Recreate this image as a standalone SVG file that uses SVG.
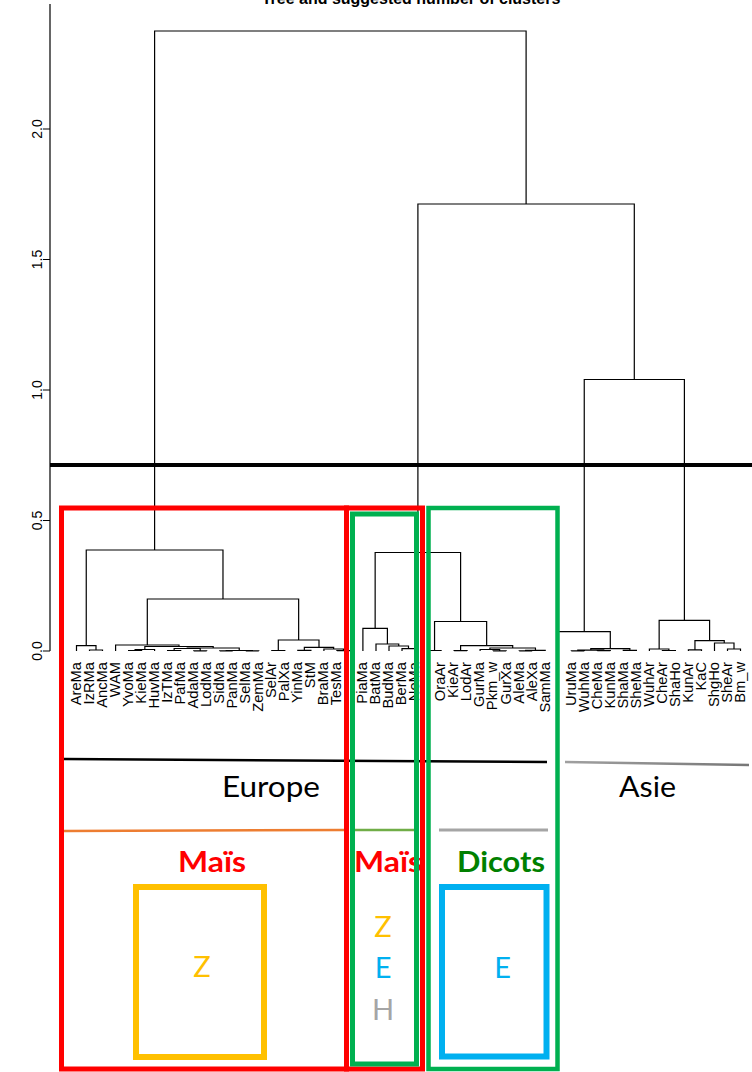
<svg xmlns="http://www.w3.org/2000/svg" width="752" height="1072" viewBox="0 0 752 1072">
<defs>
<style>
.dl{fill:none;stroke:#000;stroke-width:1.2}
.lb{font-family:"Liberation Sans",Arial,sans-serif;font-size:14.7px;text-anchor:end;fill:#000}
.ax{font-family:"Liberation Sans",Arial,sans-serif;font-size:14px;text-anchor:middle;fill:#000}
.cal{font-family:Lato,"Open Sans",sans-serif;font-size:29px}
.bx{fill:none}
</style>
<linearGradient id="gg" x1="0" y1="0" x2="1" y2="0">
<stop offset="0" stop-color="#a0a0a0"/>
<stop offset="1" stop-color="#777777"/>
</linearGradient>
</defs>
<rect width="752" height="1072" fill="#fff"/>
<text x="411" y="4" font-family="Liberation Sans, Arial, sans-serif" font-size="16" font-weight="bold" text-anchor="middle">Tree and suggested number of clusters</text>
<g id="axis">
<path class="dl" d="M50 4V651M43 651H50M43 520.5H50M43 390H50M43 259.5H50M43 129H50"/>
<text class="ax" transform="translate(42,651) rotate(-90)">0.0</text>
<text class="ax" transform="translate(42,520.5) rotate(-90)">0.5</text>
<text class="ax" transform="translate(42,390) rotate(-90)">1.0</text>
<text class="ax" transform="translate(42,259.5) rotate(-90)">1.5</text>
<text class="ax" transform="translate(42,129) rotate(-90)">2.0</text>
</g>
<g id="connectors">
<path class="dl" d="
M89.5 651V650H102.5V651
M76.5 651V645.7H96V650
M128.6 651V650.5H141.6V651
M135.1 650.5V649.5H154.6V651
M167.6 651V650.5H180.7V651
M193.7 651V650.8H206.7V651
M174.15 650.5V648.5H200.2V650.8
M219.7 651V650.9H232.7V651
M245.8 651V650.9H258.8V651
M226.2 650.9V650.5H252.3V650.9
M187.2 648.5V648H239.25V650.5
M144.85 649.5V646.5H213.2V648
M115.6 651V645H179V646.5
M271.8 651V650.5H284.8V651
M297.8 651V650.3H310.9V651
M336.9 651V650.7H349.9V651
M323.9 651V649H343.4V650.7
M304.35 650.3V647.3H333.65V649
M278.3 650.5V640H319V647.3
M147.3 645V599H298.65V640
M86.25 645.7V550H222.98V599
M402 651V648.7H415V651
M389 651V646H408.5V648.7
M376 651V644H398.75V646
M362.9 651V628.3H387.4V644
M428 651V650.5H441.1V651
M454.1 651V650.7H467.1V651
M493.1 651V650.8H506.2V651
M480.1 651V649.5H499.65V650.8
M519.2 651V650.9H532.2V651
M525.7 650.9V650.4H545.2V651
M489.9 649.5V648H535.45V650.4
M460.6 650.7V645.7H512.7V648
M434.55 650.5V621.5H486.65V645.7
M375.15 628.3V552.5H460.6V621.5
M571.3 651V650.8H584.3V651
M597.3 651V650.6H610.3V651
M577.8 650.8V650.2H603.8V650.6
M623.3 651V650.3H636.4V651
M590.8 650.2V648.6H629.85V650.3
M558.2 651V631.7H610.3V648.6
M662.4 651V650.5H675.4V651
M649.4 651V649H668.9V650.5
M688.4 651V649.8H701.5V651
M727.5 651V649H740.5V651
M714.5 651V643H734V649
M694.95 649.8V640.7H724.25V643
M659.15 649V620.3H709.6V640.7
M584.25 631.7V379.5H684.4V620.3
M417.9 552.5V204H634.3V379.5
M154.6 550V31H526.1V204"/>
<line x1="50" y1="465" x2="752" y2="465" stroke="#000" stroke-width="4"/>
</g>
<g id="leaves">
<text class="lb" transform="translate(80.8,662) rotate(-90)">AreMa</text>
<text class="lb" transform="translate(93.8,662) rotate(-90)">IzRMa</text>
<text class="lb" transform="translate(106.8,662) rotate(-90)">AncMa</text>
<text class="lb" transform="translate(119.9,662) rotate(-90)">WAM</text>
<text class="lb" transform="translate(132.9,662) rotate(-90)">YvoMa</text>
<text class="lb" transform="translate(145.9,662) rotate(-90)">KieMa</text>
<text class="lb" transform="translate(158.9,662) rotate(-90)">HuvMa</text>
<text class="lb" transform="translate(171.9,662) rotate(-90)">IzTMa</text>
<text class="lb" transform="translate(185,662) rotate(-90)">PafMa</text>
<text class="lb" transform="translate(198,662) rotate(-90)">AdaMa</text>
<text class="lb" transform="translate(211,662) rotate(-90)">LodMa</text>
<text class="lb" transform="translate(224,662) rotate(-90)">SidMa</text>
<text class="lb" transform="translate(237,662) rotate(-90)">PanMa</text>
<text class="lb" transform="translate(250.1,662) rotate(-90)">SelMa</text>
<text class="lb" transform="translate(263.1,662) rotate(-90)">ZemMa</text>
<text class="lb" transform="translate(276.1,662) rotate(-90)">SelAr</text>
<text class="lb" transform="translate(289.1,662) rotate(-90)">PalXa</text>
<text class="lb" transform="translate(302.1,662) rotate(-90)">YinMa</text>
<text class="lb" transform="translate(315.2,662) rotate(-90)">StM</text>
<text class="lb" transform="translate(328.2,662) rotate(-90)">BraMa</text>
<text class="lb" transform="translate(341.2,662) rotate(-90)">TesMa</text>
<text class="lb" transform="translate(367.2,662) rotate(-90)">PiaMa</text>
<text class="lb" transform="translate(380.3,662) rotate(-90)">BatMa</text>
<text class="lb" transform="translate(393.3,662) rotate(-90)">BudMa</text>
<text class="lb" transform="translate(406.3,662) rotate(-90)">BerMa</text>
<text class="lb" transform="translate(419.3,662) rotate(-90)">NeMa</text>
<text class="lb" transform="translate(445.4,662) rotate(-90)">OraAr</text>
<text class="lb" transform="translate(458.4,662) rotate(-90)">KieAr</text>
<text class="lb" transform="translate(471.4,662) rotate(-90)">LodAr</text>
<text class="lb" transform="translate(484.4,662) rotate(-90)">GurMa</text>
<text class="lb" transform="translate(497.4,662) rotate(-90)">Pkm_w</text>
<text class="lb" transform="translate(510.5,662) rotate(-90)">GurXa</text>
<text class="lb" transform="translate(523.5,662) rotate(-90)">AleMa</text>
<text class="lb" transform="translate(536.5,662) rotate(-90)">AleXa</text>
<text class="lb" transform="translate(549.5,662) rotate(-90)">SamMa</text>
<text class="lb" transform="translate(575.6,662) rotate(-90)">UruMa</text>
<text class="lb" transform="translate(588.6,662) rotate(-90)">WuhMa</text>
<text class="lb" transform="translate(601.6,662) rotate(-90)">CheMa</text>
<text class="lb" transform="translate(614.6,662) rotate(-90)">KunMa</text>
<text class="lb" transform="translate(627.6,662) rotate(-90)">ShaMa</text>
<text class="lb" transform="translate(640.7,662) rotate(-90)">SheMa</text>
<text class="lb" transform="translate(653.7,662) rotate(-90)">WuhAr</text>
<text class="lb" transform="translate(666.7,662) rotate(-90)">CheAr</text>
<text class="lb" transform="translate(679.7,662) rotate(-90)">ShaHo</text>
<text class="lb" transform="translate(692.7,662) rotate(-90)">KunAr</text>
<text class="lb" transform="translate(705.8,662) rotate(-90)">KaC</text>
<text class="lb" transform="translate(718.8,662) rotate(-90)">ShgHo</text>
<text class="lb" transform="translate(731.8,662) rotate(-90)">SheAr</text>
<text class="lb" transform="translate(744.8,662) rotate(-90)">Bm_w</text>
</g>
<g id="regions">
<line x1="64" y1="759" x2="547" y2="762" stroke="#000" stroke-width="2.5"/>
<line x1="565" y1="762" x2="749" y2="765" stroke="url(#gg)" stroke-width="2.5"/>
<text class="cal" x="222" y="797" textLength="98" lengthAdjust="spacingAndGlyphs">Europe</text>
<text class="cal" x="619" y="797" textLength="57" lengthAdjust="spacingAndGlyphs">Asie</text>
<line x1="64" y1="831" x2="344" y2="830" stroke="#ed7d31" stroke-width="2.5"/>
<line x1="355" y1="830" x2="415" y2="830" stroke="#70ad47" stroke-width="2.5"/>
<line x1="439" y1="830" x2="548" y2="830" stroke="#a5a5a5" stroke-width="3"/>
</g>
<g id="labels">
<text class="cal" x="178" y="872" fill="#ff0000" font-weight="bold" textLength="68" lengthAdjust="spacingAndGlyphs">Maïs</text>
<text class="cal" x="354" y="872" fill="#ff0000" font-weight="bold" textLength="68" lengthAdjust="spacingAndGlyphs">Maïs</text>
<text class="cal" x="457" y="872" fill="#008000" font-weight="bold" textLength="88" lengthAdjust="spacingAndGlyphs">Dicots</text>
<text class="cal" x="202" y="977" fill="#ffc000" text-anchor="middle">Z</text>
<text class="cal" x="383" y="937" fill="#ffc000" text-anchor="middle">Z</text>
<text class="cal" x="383" y="978" fill="#00b0f0" text-anchor="middle">E</text>
<text class="cal" x="383" y="1020" fill="#a5a5a5" text-anchor="middle">H</text>
<text class="cal" x="502.5" y="978" fill="#00b0f0" text-anchor="middle">E</text>
</g>
<g id="box-maize-europe"><rect class="bx" x="61.5" y="508" width="285" height="561" stroke="#ff0000" stroke-width="5"/></g>
<g id="box-maize-2"><rect class="bx" x="346.5" y="508" width="76" height="561" stroke="#ff0000" stroke-width="5"/></g>
<g id="box-green-inner"><rect class="bx" x="352.5" y="514" width="64" height="550" stroke="#00b050" stroke-width="5"/></g>
<g id="box-dicots"><rect class="bx" x="428.5" y="508" width="129" height="561" stroke="#00b050" stroke-width="4.5"/></g>
<g id="box-z"><rect class="bx" x="136" y="887" width="128" height="170" stroke="#ffc000" stroke-width="6"/></g>
<g id="box-e"><rect class="bx" x="442" y="887" width="104.5" height="169.5" stroke="#00b0f0" stroke-width="6"/></g>
</svg>
